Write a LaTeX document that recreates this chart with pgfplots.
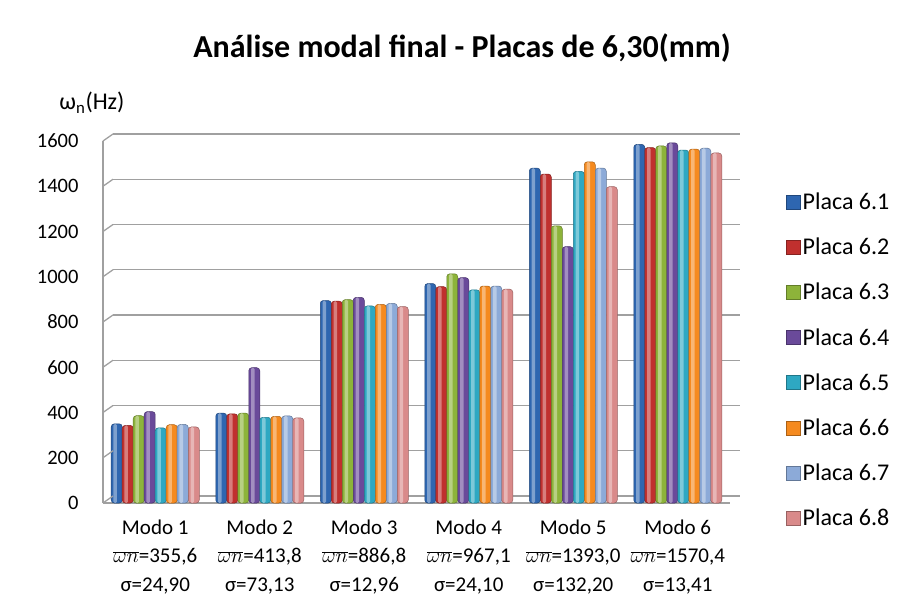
\documentclass[border=0pt]{standalone}
\usepackage{fontspec}
\setmainfont{Carlito}
\usepackage{pgfplots}
\pgfplotsset{compat=1.18}
\usepackage{pgfplotstable}

\definecolor{c1}{HTML}{2E66B0}
\definecolor{c2}{HTML}{C0302E}
\definecolor{c3}{HTML}{8DB33A}
\definecolor{c4}{HTML}{6A4A9A}
\definecolor{c5}{HTML}{2EA8C2}
\definecolor{c6}{HTML}{F58A1F}
\definecolor{c7}{HTML}{8CAAD8}
\definecolor{c8}{HTML}{D98A8A}
\definecolor{gridc}{HTML}{A0A0A0}

% frequencies (Hz) per mode, one column per plate
\pgfplotstableread{
x p1 p2 p3 p4 p5 p6 p7 p8
0 350 343 386 404 332 346 347 336
1 397 394 397 598 379 383 385 376
2 895 892 899 909 871 878 882 868
3 970 956 1013 996 942 959 959 945
4 1480 1454 1225 1133 1466 1508 1480 1398
5 1585 1571 1578 1592 1560 1564 1568 1547
}\modal

\pgfplotsset{
  cyl/.style 2 args={fill=#1, draw=#1!70!black, line width=0.5pt,
    bar shift=#2, rounded corners=3pt,
    legend image code/.code={\path[##1, rounded corners=0pt] (0pt,-7pt) rectangle (14pt,7pt);}},
  hl/.style={forget plot, fill=white, fill opacity=0.38, draw=none,
    bar width=3.5pt, bar shift=#1, rounded corners=1.5pt},
}

\begin{document}
\begin{tikzpicture}
\begin{axis}[
  at={(0pt,0pt)}, anchor=south west,
  scale only axis, width=627pt, height=362pt,
  ybar=0pt, bar width=11pt,
  xmin=-0.5, xmax=5.5, ymin=0, ymax=1600,
  xtick={0,...,5},
  xticklabels={
    {Modo 1\\$\overline{\omega n}$=355,6\\σ=24,90},
    {Modo 2\\$\overline{\omega n}$=413,8\\σ=73,13},
    {Modo 3\\$\overline{\omega n}$=886,8\\σ=12,96},
    {Modo 4\\$\overline{\omega n}$=967,1\\σ=24,10},
    {Modo 5\\$\overline{\omega n}$=1393,0\\σ=132,20},
    {Modo 6\\$\overline{\omega n}$=1570,4\\σ=13,41}},
  xticklabel style={align=center, font=\fontsize{21}{28.5}\selectfont, yshift=-13pt},
  ytick={0,200,...,1600},
  yticklabel style={font=\fontsize{20.5}{24}\selectfont, xshift=-21pt},
  /pgf/number format/assume math mode=true,
  /pgf/number format/1000 sep={},
  axis lines*=left,
  axis line style={draw=gridc, line width=1.3pt},
  major tick length=0pt,
  ymajorgrids,
  major grid style={draw=gridc, line width=1.3pt, xshift=10pt, yshift=7pt},
  legend style={at={(axis description cs:1.0845,0.868)}, anchor=north west,
    draw=none, fill=none, font=\fontsize{24}{24}\selectfont,
    row sep=23pt, legend cell align=left},
  clip=false,
]
\addplot[cyl={c1}{-38.5pt}] table[x=x,y=p1]{\modal};
\addplot[cyl={c2}{-27.5pt}] table[x=x,y=p2]{\modal};
\addplot[cyl={c3}{-16.5pt}] table[x=x,y=p3]{\modal};
\addplot[cyl={c4}{-5.5pt}] table[x=x,y=p4]{\modal};
\addplot[cyl={c5}{5.5pt}] table[x=x,y=p5]{\modal};
\addplot[cyl={c6}{16.5pt}] table[x=x,y=p6]{\modal};
\addplot[cyl={c7}{27.5pt}] table[x=x,y=p7]{\modal};
\addplot[cyl={c8}{38.5pt}] table[x=x,y=p8]{\modal};
\legend{Placa 6.1,Placa 6.2,Placa 6.3,Placa 6.4,Placa 6.5,Placa 6.6,Placa 6.7,Placa 6.8}
% cylinder highlights
\addplot[hl=-40pt] table[x=x,y=p1]{\modal};
\addplot[hl=-29pt] table[x=x,y=p2]{\modal};
\addplot[hl=-18pt] table[x=x,y=p3]{\modal};
\addplot[hl=-7pt] table[x=x,y=p4]{\modal};
\addplot[hl=4pt] table[x=x,y=p5]{\modal};
\addplot[hl=15pt] table[x=x,y=p6]{\modal};
\addplot[hl=26pt] table[x=x,y=p7]{\modal};
\addplot[hl=37pt] table[x=x,y=p8]{\modal};
\pgfplotsinvokeforeach{0,200,...,1600}{
  \draw[gridc, line width=1.3pt] (axis cs:-0.5,#1) -- ++(10pt,7pt);
}
\end{axis}
\node[font=\fontsize{32}{32}\bfseries\selectfont] at (359pt,455pt) {Análise modal final - Placas de 6,30(mm)};
\node[font=\fontsize{24}{24}\selectfont] at (-11pt,400pt) {ω\textsubscript{n}(Hz)};
\path[use as bounding box] (-103pt,-105pt) rectangle (804pt,503pt);
\end{tikzpicture}
\end{document}
